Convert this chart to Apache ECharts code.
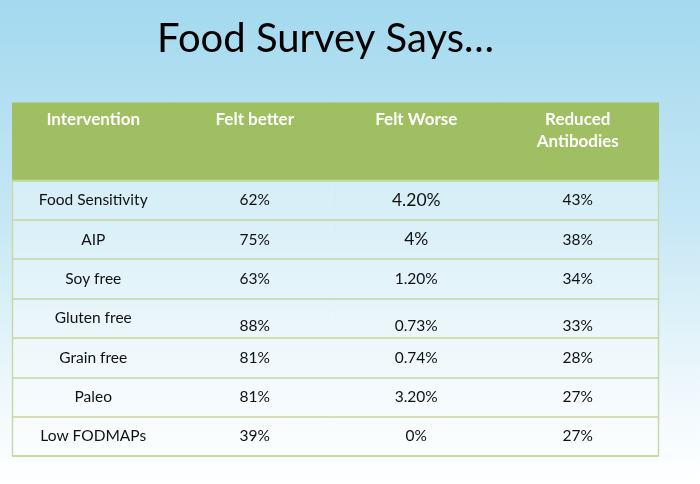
<!DOCTYPE html>
<html>
<head>
<meta charset="utf-8">
<script src="https://cdn.jsdelivr.net/npm/echarts@6/dist/echarts.min.js"></script>
<style>
  html, body { margin: 0; padding: 0; }
  #main { width: 700px; height: 484px; }
</style>
</head>
<body>
<div id="main"></div>
<script>
// table contents
const headers = ['Intervention', 'Felt better', 'Felt Worse', 'Reduced\nAntibodies'];
const interventions = ['Food Sensitivity', 'AIP', 'Soy free', 'Gluten free', 'Grain free', 'Paleo', 'Low FODMAPs'];
const feltBetter = ['62%', '75%', '63%', '88%', '81%', '81%', '39%'];
const feltWorse = ['4.20%', '4%', '1.20%', '0.73%', '0.74%', '3.20%', '0%'];
const reducedAntibodies = ['43%', '38%', '34%', '33%', '28%', '27%', '27%'];

const FONT = 'Lato, "Open Sans", sans-serif';
const columns = [interventions, feltBetter, feltWorse, reducedAntibodies];

// cells [col, row, text]
let headerCells = headers.map((h, i) => [i, 0, h]);
let bodyCells = [];
columns.forEach((col, c) => {
  col.forEach((t, r) => bodyCells.push([c, r, t]));
});

let chart = echarts.init(document.getElementById('main'));

function headerItem(params, api) {
  let p = api.coord([api.value(0), api.value(1)]);
  let s = api.size([1, 1]);
  return {
    type: 'group',
    children: [
      {
        type: 'rect',
        // overlap a pixel so no seams show between the opaque cells
        shape: { x: p[0] - s[0] / 2 - 0.5, y: p[1] - s[1] / 2, width: s[0] + 1, height: s[1] },
        style: { fill: '#9fbf62' }
      },
      {
        type: 'text',
        style: {
          text: headerCells[params.dataIndex][2],
          x: p[0], y: p[1] - s[1] / 2 + 6,
          align: 'center', verticalAlign: 'top',
          font: 'bold 17px ' + FONT, lineHeight: 22,
          fill: '#ffffff'
        }
      }
    ]
  };
}

function bodyItem(params, api) {
  let c = api.value(0), r = api.value(1);
  let p = api.coord([c, r]);
  let s = api.size([1, 1]);
  let txt = bodyCells[params.dataIndex][2];
  let big = c === 2 && r < 2;
  // the gluten free row has its numbers sitting low in the cell
  let dy = (r === 3 && c > 0) ? 8 : 0;
  return {
    type: 'group',
    children: [
      {
        type: 'rect',
        shape: { x: p[0] - s[0] / 2, y: p[1] - s[1] / 2, width: s[0], height: s[1] },
        style: { fill: 'rgba(255,255,255,0.35)' }
      },
      {
        type: 'text',
        style: {
          text: txt,
          x: p[0], y: p[1] + dy,
          align: 'center', verticalAlign: 'middle',
          font: (big ? '17.5px ' : '15.5px ') + FONT,
          fill: '#111111'
        }
      }
    ]
  };
}

let option = {
  animation: false,
  backgroundColor: {
    type: 'linear', x: 0, y: 0, x2: 0, y2: 1,
    colorStops: [
      { offset: 0, color: '#a3d9ef' },
      { offset: 0.45, color: '#c6e7f5' },
      { offset: 0.8, color: '#eef8fc' },
      { offset: 1, color: '#ffffff' }
    ]
  },
  title: {
    text: 'Food Survey Says…',
    left: 152,
    top: 14,
    textStyle: { fontFamily: FONT, fontSize: 40, fontWeight: 'normal', color: '#000000' }
  },
  grid: [
    { left: 12.5, right: 41.5, top: 102.5, height: 78, show: false },
    { left: 12.5, right: 41.5, top: 180.5, height: 275.5, show: true, borderColor: '#c7d9a6', borderWidth: 1.5, backgroundColor: 'transparent', z: 5 }
  ],
  xAxis: [
    { type: 'category', gridIndex: 0, data: headers, show: false },
    { type: 'category', gridIndex: 1, data: headers, show: false }
  ],
  yAxis: [
    { type: 'category', gridIndex: 0, data: ['header'], show: false },
    {
      type: 'category', gridIndex: 1, data: interventions, inverse: true,
      axisLine: { show: false }, axisTick: { show: false }, axisLabel: { show: false },
      splitLine: { show: true, lineStyle: { color: '#c3d99c', width: 1.5 } },
      z: 6
    }
  ],
  series: [
    {
      type: 'custom', xAxisIndex: 0, yAxisIndex: 0,
      data: headerCells.map(d => [d[0], d[1]]),
      renderItem: headerItem, silent: true
    },
    {
      type: 'custom', xAxisIndex: 1, yAxisIndex: 1,
      data: bodyCells.map(d => [d[0], d[1]]),
      renderItem: bodyItem, silent: true
    }
  ]
};

chart.setOption(option);
</script>
</body>
</html>
